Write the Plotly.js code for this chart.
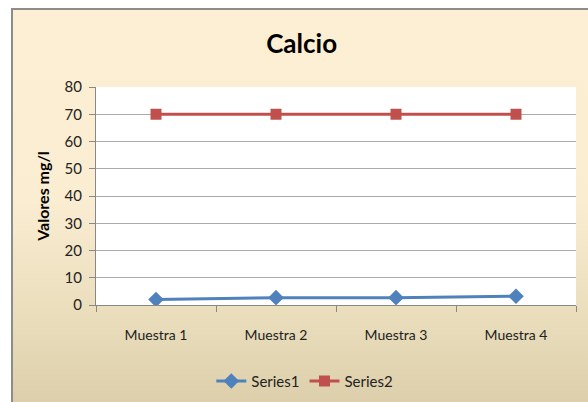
<!DOCTYPE html>
<html>
<head>
<meta charset="utf-8">
<script src="https://cdn.plot.ly/plotly-3.0.1.min.js"></script>
<style>
  body { margin: 0; background: #fff; overflow: hidden; }
  #bg {
    position: absolute; left: 11px; top: 8px; width: 600px; height: 420px;
    border-left: 2px solid #8c8c8c; border-top: 2px solid #8c8c8c;
    background: linear-gradient(to bottom, #fdefd3 0%, #fbedd2 45%, #e9dcba 75%, #d8caa6 100%);
  }
  #chart { position: absolute; left: 0; top: 0; width: 588px; height: 402px; }
</style>
</head>
<body>
<div id="bg"></div>
<div id="chart"></div>
<script>
const categories = ['Muestra 1', 'Muestra 2', 'Muestra 3', 'Muestra 4'];
const series1 = [2.0, 2.7, 2.7, 3.2];
const series2 = [70, 70, 70, 70];

const trace1 = {
    x: categories,
    y: series1,
    type: 'scatter',
    mode: 'lines+markers',
    name: 'Series1',
    line: { color: '#4f81bd', width: 3 },
    marker: { symbol: 'diamond', size: 12, color: '#4f81bd' }
};

const trace2 = {
    x: categories,
    y: series2,
    type: 'scatter',
    mode: 'lines+markers',
    name: 'Series2',
    line: { color: '#c0504d', width: 3 },
    marker: { symbol: 'square', size: 11, color: '#c0504d' }
};

const layout = {
    width: 588,
    height: 402,
    margin: { l: 96, r: 12, t: 87, b: 97, autoexpand: false },
    paper_bgcolor: 'rgba(0,0,0,0)',
    plot_bgcolor: '#ffffff',
    font: { family: 'Lato, sans-serif', color: '#222' },
    title: {
        text: '<b>Calcio</b>',
        font: { size: 26, color: '#000' },
        x: 0.513, xanchor: 'center',
        y: 0.89, yanchor: 'middle'
    },
    xaxis: {
        type: 'category',
        range: [-0.5, 3.5],
        tickson: 'boundaries',
        ticks: 'outside',
        ticklen: 6,
        tickcolor: '#888',
        showline: true,
        linecolor: '#888',
        showgrid: false,
        tickfont: { size: 14 },
        ticklabelstandoff: 17
    },
    yaxis: {
        range: [0, 80],
        dtick: 10,
        ticks: 'outside',
        ticklen: 6,
        tickcolor: '#888',
        showline: true,
        linecolor: '#888',
        gridcolor: '#aaaaaa',
        zeroline: false,
        tickfont: { size: 15 },
        ticklabelstandoff: 4,
        title: { text: '<b>Valores mg/l</b>', font: { size: 16, color: '#000' }, standoff: 10 }
    },
    showlegend: true,
    legend: {
        orientation: 'h',
        x: 0.435, xanchor: 'center',
        y: -0.35, yanchor: 'middle',
        font: { size: 15 },
        bgcolor: 'rgba(0,0,0,0)'
    }
};

Plotly.newPlot('chart', [trace1, trace2], layout, { displayModeBar: false });
</script>
</body>
</html>
